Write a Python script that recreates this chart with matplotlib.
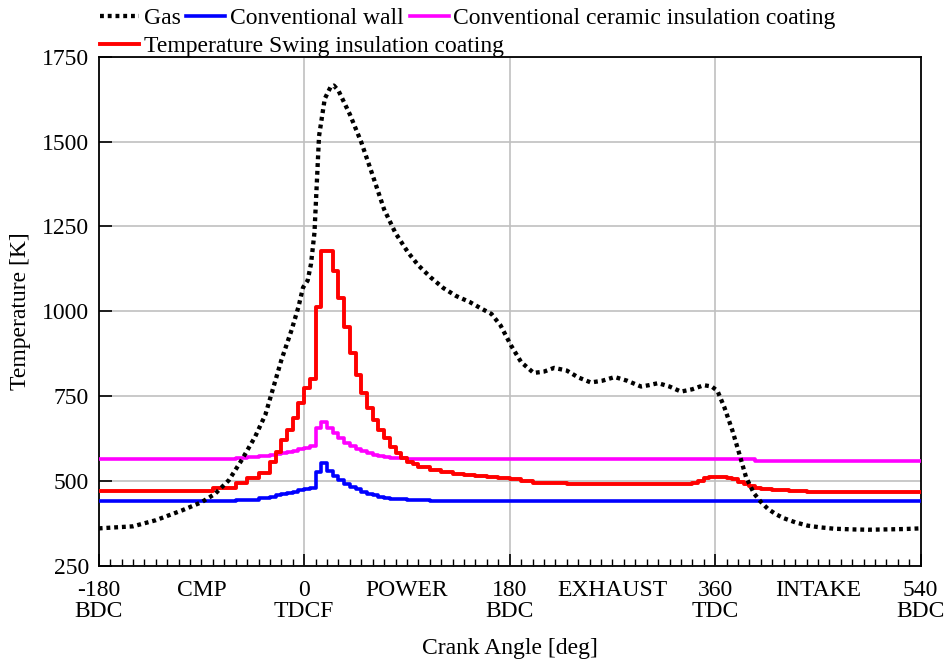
import numpy as np
import matplotlib.pyplot as plt

plt.rcParams['font.family'] = ['Liberation Serif', 'DejaVu Serif']
plt.rcParams['font.size'] = 17

# gas temperature (smooth curve)
gas_deg = [-180, -150, -130, -107, -90, -78, -66, -55, -43, -34, -20, -11, -5, -1, 3, 6, 9, 13, 18, 23, 26,
           30, 40, 50, 60, 70, 80, 91, 100, 111, 122, 133, 145, 155, 164, 172, 181, 190, 201, 210, 219,
           230, 240, 251, 261, 272, 283, 295, 302, 310, 320, 330, 340, 350, 357, 362, 368, 375, 381, 387,
           394, 400, 406, 413, 420, 430, 441, 452, 464, 480, 494, 510, 525, 540]
gas_K = [360, 366, 384, 413, 437, 462, 502, 560, 630, 695, 856, 945, 1013, 1070, 1090, 1140, 1232, 1516, 1626, 1660, 1665,
         1650, 1580, 1498, 1400, 1300, 1230, 1173, 1135, 1099, 1068, 1045, 1027, 1008, 992, 958, 900, 850, 818, 822, 833,
         825, 805, 790, 795, 806, 795, 778, 782, 788, 778, 763, 770, 782, 778, 765, 717, 649, 581, 511,
         463, 438, 418, 402, 390, 378, 368, 363, 359, 357, 356, 357, 358, 360]

# wall temperatures (stepped, value holds from each angle to the next)
wall_deg = [-180, -100, -80, -60, -50, -40, -30, -25, -20, -15, -10, -5, 0, 5, 10, 15, 20, 25, 30, 35, 40, 45,
            50, 55, 60, 65, 70, 75, 80, 85, 90, 95, 100, 110, 120, 130, 140, 150, 160, 170, 180, 190, 200,
            210, 230, 340, 345, 350, 355, 370, 375, 380, 385, 390, 395, 400, 410, 425, 440, 540]
conv_K = [440, 440, 441, 443, 445, 449, 453, 457, 460, 464, 468, 472, 477, 480, 525, 553, 530, 515, 503, 492, 483, 475,
          468, 462, 457, 453, 450, 448, 447, 446, 445, 444, 443, 442, 442, 442, 442, 442, 442, 442, 442, 442, 442,
          442, 442, 442, 442, 442, 442, 442, 442, 442, 442, 442, 442, 442, 442, 442, 442, 442]
ceramic_K = [563, 564, 565, 567, 569, 572, 576, 578, 581, 585, 589, 593, 598, 603, 655, 673, 655, 640, 625, 612, 602, 594,
             587, 581, 577, 573, 570, 568, 567, 566, 565, 564, 563, 563, 563, 563, 563, 563, 563, 563, 563, 563, 563,
             563, 563, 563, 563, 563, 563, 563, 563, 563, 563, 563, 560, 560, 560, 560, 560, 560]
swing_K = [470, 471, 479, 494, 507, 524, 555, 585, 620, 650, 685, 730, 775, 800, 1013, 1176, 1176, 1117, 1040, 954, 877, 812,
           759, 714, 679, 649, 626, 599, 581, 568, 557, 549, 542, 532, 525, 521, 518, 515, 512, 508, 505, 500, 495,
           493, 491, 495, 500, 507, 510, 508, 505, 498, 492, 485, 480, 477, 474, 470, 468, 468]

tick_pos = [-180, -90, 0, 90, 180, 270, 360, 450, 540]
tick_lab = ['-180\nBDC', 'CMP', '0\nTDCF', 'POWER', '180\nBDC', 'EXHAUST', '360\nTDC', 'INTAKE', '540\nBDC']

fig = plt.figure(figsize=(9.48, 6.65), dpi=100)
ax = fig.add_axes([98.7 / 948, 1 - 565.7 / 665, 822 / 948, 509 / 665])

l_gas, = ax.plot(gas_deg, gas_K, color='black', lw=3.1, ls=(0, (0.9, 0.9)), zorder=5, label='Gas')
l_conv, = ax.plot(wall_deg, conv_K, color='#0000ff', lw=2.6, drawstyle='steps-post', zorder=3,
                  label='Conventional wall')
l_cer, = ax.plot(wall_deg, ceramic_K, color='#ff00ff', lw=2.6, drawstyle='steps-post', zorder=3,
                 label='Conventional ceramic insulation coating')
l_sw, = ax.plot(wall_deg, swing_K, color='#ff0000', lw=2.8, drawstyle='steps-post', zorder=4,
                label='Temperature Swing insulation coating')

ax.set_xlim(-180, 540)
ax.set_ylim(250, 1750)
ax.set_yticks([250, 500, 750, 1000, 1250, 1500, 1750])
ax.set_xticks(tick_pos)
ax.set_xticklabels(tick_lab, linespacing=1.0)
ax.set_xticks(np.arange(-180, 541, 10), minor=True)
ax.tick_params(axis='both', which='major', direction='in', length=9, width=1.2, pad=7, labelsize=17)
ax.tick_params(axis='x', which='major', pad=10)
ax.tick_params(axis='x', which='minor', direction='in', length=5, width=1)
for t in ax.xaxis.get_major_ticks()[1::2]:
    t.tick1line.set_markersize(5)
    t.tick1line.set_markeredgewidth(1)

ax.yaxis.grid(True, color='#c0c0c0', lw=1.2)
for v in [0, 180, 360]:
    ax.axvline(v, color='#c0c0c0', lw=1.2, zorder=0)
for s in ax.spines.values():
    s.set_linewidth(1.3)

ax.set_xlabel('Crank Angle [deg]', fontsize=17, labelpad=12)
ax.set_ylabel('Temperature [K]', fontsize=17, labelpad=8)

kw = dict(frameon=False, fontsize=17, handlelength=1.65, handletextpad=0.2, columnspacing=0.25,
          borderpad=0, borderaxespad=0, loc='center left')
fig.legend(handles=[l_gas, l_conv, l_cer], ncol=3, bbox_to_anchor=(100 / 948, 1 - 18 / 665), **kw)
fig.legend(handles=[l_sw], ncol=1, bbox_to_anchor=(100 / 948, 1 - 46 / 665), **kw)

fig.savefig('out.png', dpi=100)
